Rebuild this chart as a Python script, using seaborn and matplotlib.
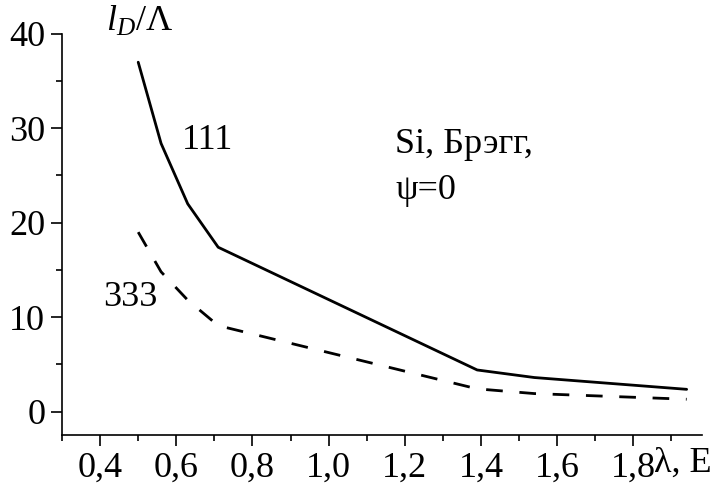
import matplotlib
matplotlib.use("Agg")
import matplotlib.pyplot as plt
import seaborn as sns
import pandas as pd
from matplotlib.ticker import MultipleLocator, FuncFormatter

wavelength = [0.50, 0.56, 0.63, 0.71, 1.39, 1.54, 1.94]
ratio_111 = [37.0, 28.4, 22.0, 17.4, 4.4, 3.6, 2.35]
ratio_333 = [19.0, 14.8, 11.8, 9.1, 2.4, 1.9, 1.3]
x_ticks = [0.4, 0.6, 0.8, 1.0, 1.2, 1.4, 1.6, 1.8]
y_ticks = [0, 10, 20, 30, 40]

sns.set_theme(style="ticks")
plt.rcParams['font.family'] = ['Liberation Serif', 'DejaVu Serif']
plt.rcParams['text.color'] = 'black'
plt.rcParams['mathtext.fontset'] = 'custom'
plt.rcParams['mathtext.rm'] = 'Liberation Serif'
plt.rcParams['mathtext.it'] = 'Liberation Serif:italic'

df = pd.DataFrame({
    "x": wavelength * 2,
    "y": ratio_111 + ratio_333,
    "refl": ["111"] * len(wavelength) + ["333"] * len(wavelength),
})

fig = plt.figure(figsize=(7.23, 4.84), dpi=100)
ax = fig.add_axes([0.0858, 0.101, 0.885, 0.829])

sns.lineplot(data=df[df.refl == "111"], x="x", y="y", ax=ax, color="black",
             linewidth=2.0, sort=False)
sns.lineplot(data=df[df.refl == "333"], x="x", y="y", ax=ax, color="black",
             linewidth=2.0, sort=False, linestyle=(0, (6, 6)))

ax.set_xlim(0.3, 1.98)
ax.set_ylim(-2.5, 40)
ax.set_xticks(x_ticks)
ax.set_yticks(y_ticks)
ax.xaxis.set_minor_locator(MultipleLocator(0.1))
ax.yaxis.set_minor_locator(MultipleLocator(5))
ax.xaxis.set_major_formatter(FuncFormatter(lambda v, p: f"{v:.1f}".replace(".", ",")))
ax.tick_params(axis="both", which="major", direction="out", length=8, width=1.2,
               labelsize=26, colors="black", pad=4)
ax.tick_params(axis="both", which="minor", direction="out", length=4, width=1.2,
               colors="black")
ax.set_xlabel("")
ax.set_ylabel("")
for s in ["top", "right"]:
    ax.spines[s].set_visible(False)
for s in ["left", "bottom"]:
    ax.spines[s].set_linewidth(1.2)
    ax.spines[s].set_color("black")

fs = 26
ax.text(0.683, 28.7, "111", fontsize=fs, ha="center", va="center", color="black")
ax.text(0.48, 12.1, "333", fontsize=fs, ha="center", va="center", color="black")
ax.text(1.175, 28.3, "Si, Брэгг,", fontsize=fs, ha="left", va="center", color="black")
ax.text(1.175, 23.4, "ψ=0", fontsize=fs, ha="left", va="center", color="black")
fig.text(0.146, 0.955, r"$l_D$/Λ", fontsize=fs, ha="left", va="center", color="black")
fig.text(0.905, 0.043, "λ, E", fontsize=fs, ha="left", va="center", color="black")

fig.savefig("out.png", dpi=100)
